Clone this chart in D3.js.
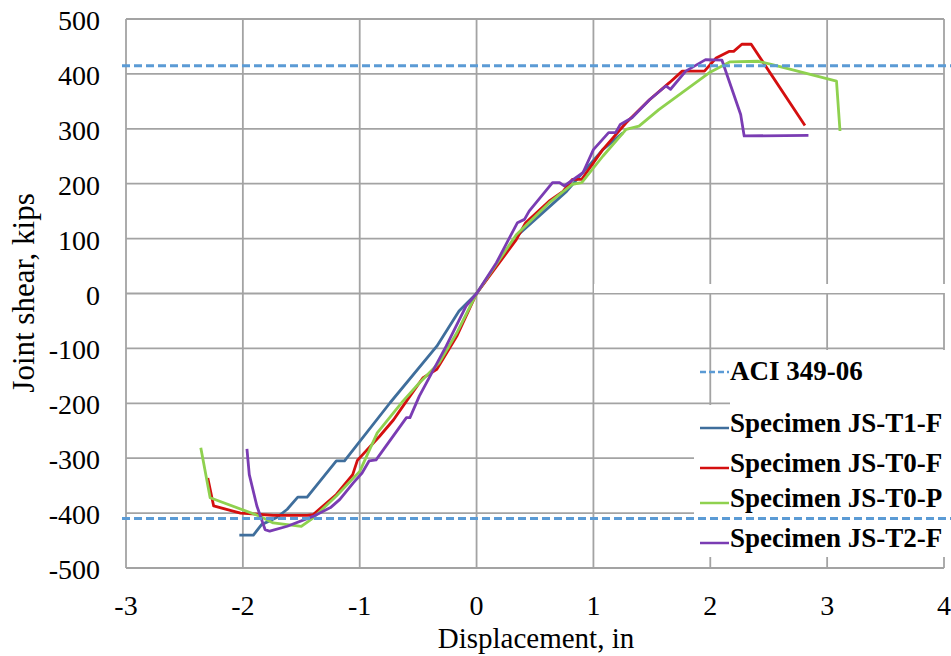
<!DOCTYPE html>
<html>
<head>
<meta charset="utf-8">
<script src="https://cdn.jsdelivr.net/npm/d3@7"></script>
<style>
  body { margin: 0; background: #fff; }
  text { font-family: "Liberation Serif", "Times New Roman", serif; }
</style>
</head>
<body>
<div id="chart"></div>
<script>
var w = 951;
var h = 656;

// data: displacement (in) / joint shear (kips)
var t1fX = [-2.03, -1.91, -1.84, -1.71, -1.62, -1.53, -1.45, -1.20, -1.13, -0.74, -0.34, -0.15, 0, 0.34, 0.77, 1.08, 1.25];
var t1fY = [-440, -440, -421, -408, -393, -371, -371, -305, -305, -199, -96, -32, 0, 104, 186, 262, 292];

var t0fX = [-2.30, -2.25, -2.02, -1.74, -1.45, -1.40, -1.20, -1.06, -1.02, -0.83, -0.71, -0.60, -0.46, -0.34, -0.17, 0, 0.34, 0.42, 0.62, 0.74, 0.82, 0.90, 1.08, 1.28, 1.48, 1.65, 1.76, 1.95, 2.05, 2.16, 2.20, 2.27, 2.35, 2.81];
var t0fY = [-336, -387, -400, -404, -404, -403, -366, -330, -304, -260, -230, -196, -154, -138, -78, 0, 98, 129, 168, 186, 208, 208, 262, 311, 353, 384, 405, 405, 429, 441, 441, 454, 454, 306];

var t0pX = [-2.36, -2.28, -1.85, -1.74, -1.50, -1.40, -1.20, -1.00, -0.85, -0.63, -0.49, -0.32, -0.17, 0, 0.34, 0.62, 0.82, 0.90, 1.08, 1.28, 1.39, 1.56, 1.99, 2.17, 2.41, 2.53, 3.08, 3.11];
var t0pY = [-281, -372, -406, -418, -424, -409, -369, -324, -254, -196, -163, -126, -72, 0, 107, 165, 199, 202, 250, 299, 305, 335, 402, 422, 423, 417, 387, 296];

var t2fX = [-1.965, -1.945, -1.88, -1.81, -1.77, -1.62, -1.40, -1.25, -1.17, -1.055, -0.98, -0.92, -0.86, -0.60, -0.57, -0.49, -0.26, -0.09, 0, 0.17, 0.28, 0.35, 0.41, 0.45, 0.65, 0.71, 0.75, 0.91, 1.00, 1.13, 1.19, 1.23, 1.33, 1.48, 1.62, 1.66, 1.79, 1.96, 2.10, 2.26, 2.29, 2.84];
var t2fY = [-283, -330, -387, -430, -433, -424, -406, -390, -375, -345, -327, -305, -303, -226, -226, -187, -96, -23, 0, 56, 101, 129, 135, 150, 202, 202, 196, 220, 262, 293, 293, 308, 320, 353, 378, 372, 405, 426, 425, 326, 287, 288];

var aciLimits = [415, -410];

var seriesNames = ["Specimen JS-T1-F", "Specimen JS-T0-F", "Specimen JS-T0-P", "Specimen JS-T2-F"];
var seriesX = [t1fX, t0fX, t0pX, t2fX];
var seriesY = [t1fY, t0fY, t0pY, t2fY];
var seriesColors = ["#3f6e9c", "#d40f0f", "#8fd14f", "#7a3cb3"];

var xTicks = [-3, -2, -1, 0, 1, 2, 3, 4];
var yTicks = [-500, -400, -300, -200, -100, 0, 100, 200, 300, 400, 500];

var svg = d3.select("#chart")
            .append("svg")
            .attr("width", w)
            .attr("height", h);

var x = d3.scaleLinear().domain([-3, 4]).range([126, 944]);
var y = d3.scaleLinear().domain([-500, 500]).range([568, 19]);

var gridColor = "#a3a3a3";

// grid
svg.append("g").selectAll("line.v")
    .data(xTicks)
    .enter()
    .append("line")
    .attr("x1", function(d) { return x(d); })
    .attr("x2", function(d) { return x(d); })
    .attr("y1", y(500))
    .attr("y2", y(-500))
    .attr("stroke", gridColor)
    .attr("stroke-width", 1.8);

svg.append("g").selectAll("line.h")
    .data(yTicks)
    .enter()
    .append("line")
    .attr("x1", x(-3))
    .attr("x2", x(4))
    .attr("y1", function(d) { return y(d); })
    .attr("y2", function(d) { return y(d); })
    .attr("stroke", gridColor)
    .attr("stroke-width", 1.8);

// tick labels
svg.append("g").selectAll("text")
    .data(yTicks)
    .enter()
    .append("text")
    .text(function(d) { return d; })
    .attr("x", 100)
    .attr("y", function(d) { return y(d) + 11; })
    .attr("text-anchor", "end")
    .attr("font-size", 28);

svg.append("g").selectAll("text")
    .data(xTicks)
    .enter()
    .append("text")
    .text(function(d) { return d; })
    .attr("x", function(d) { return x(d); })
    .attr("y", 615)
    .attr("text-anchor", "middle")
    .attr("font-size", 28);

// axis titles
svg.append("text")
    .text("Displacement, in")
    .attr("x", 536)
    .attr("y", 648)
    .attr("text-anchor", "middle")
    .attr("font-size", 29);

svg.append("text")
    .text("Joint shear, kips")
    .attr("transform", "translate(34,293) rotate(-90)")
    .attr("text-anchor", "middle")
    .attr("font-size", 31);

// curves
var line = d3.line()
    .x(function(d) { return x(d[0]); })
    .y(function(d) { return y(d[1]); });

seriesX.forEach(function(xs, i) {
    var pts = xs.map(function(v, j) { return [v, seriesY[i][j]]; });
    svg.append("path")
        .attr("d", line(pts))
        .attr("fill", "none")
        .attr("stroke", seriesColors[i])
        .attr("stroke-width", 2.8)
        .attr("stroke-linejoin", "round");
});

// white patches left by the pasted legend
svg.append("rect").attr("x", 594).attr("y", 284).attr("width", w - 594).attr("height", 9).attr("fill", "#fff");
svg.append("rect").attr("x", 730).attr("y", 350).attr("width", w - 730).attr("height", 55).attr("fill", "#fff");
svg.append("rect").attr("x", 694).attr("y", 405).attr("width", w - 694).attr("height", 152).attr("fill", "#fff");

// ACI 349-06 limits
svg.append("g").selectAll("line")
    .data(aciLimits)
    .enter()
    .append("line")
    .attr("x1", x(-3) - 4)
    .attr("x2", w)
    .attr("y1", function(d) { return y(d); })
    .attr("y2", function(d) { return y(d); })
    .attr("stroke", "#5b9bd5")
    .attr("stroke-width", 3)
    .attr("stroke-dasharray", "8,4");

// legend
var legendY = [380, 432, 472, 507, 547];
var legendNames = ["ACI 349-06"].concat(seriesNames);
var legendColors = ["#5b9bd5"].concat(seriesColors);

var legend = svg.append("g");
legendNames.forEach(function(name, i) {
    legend.append("line")
        .attr("x1", 700)
        .attr("x2", 729)
        .attr("y1", legendY[i] - (i == 0 ? 8 : 4))
        .attr("y2", legendY[i] - (i == 0 ? 8 : 4))
        .attr("stroke", legendColors[i])
        .attr("stroke-width", i == 0 ? 2.5 : 2.5)
        .attr("stroke-dasharray", i == 0 ? "6,3" : null);
    legend.append("text")
        .text(name)
        .attr("x", 730)
        .attr("y", legendY[i])
        .attr("font-size", 27)
        .attr("font-weight", "bold");
});
</script>
</body>
</html>
